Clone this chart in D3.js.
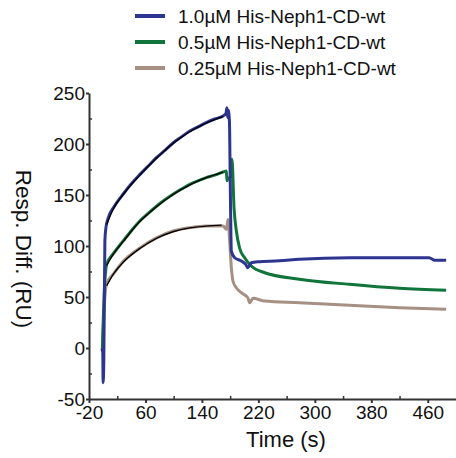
<!DOCTYPE html>
<html>
<head>
<meta charset="utf-8">
<script src="https://cdnjs.cloudflare.com/ajax/libs/d3/7.8.5/d3.min.js"></script>
<style>
body{margin:0;background:#fff;}
#canvas{width:456px;height:458px;}
text{font-family:"Liberation Sans",Arial,sans-serif;fill:#111;}
.axis path,.axis line{stroke:#333;stroke-width:2;}
.minor line{stroke:#333;stroke-width:1.5;}
</style>
</head>
<body>
<div id="canvas" class="canvas"></div>
<script>
//series names + colours
var seriesNames = ['1.0\u00b5M His-Neph1-CD-wt','0.5\u00b5M His-Neph1-CD-wt','0.25\u00b5M His-Neph1-CD-wt'];
var seriesColors = ['#2e3591','#11743a','#a69083'];

//sensorgrams, [time s, RU]
var blue = [[-2,0],[-0.5,-4],[0,-34],[1,-12],[2.5,105],[4,118],[7,127],[15,138],[28.5,151],[40,161],[52,170],[64,178.5],[75.6,186.6],[88,194],[99,201],[111,207],[122.8,212.7],[135,217],[146,221],[158,224.5],[170,227.5],[174,230],[175.5,235.5],[176.5,226],[177.3,233],[179,222],[180,170],[181.7,95],[186.4,88.5],[195.8,85.3],[202,82],[205,78.7],[210,83.6],[219,84.6],[250,85.5],[278,87],[349,88.5],[420,88.5],[462,88.5],[470,86],[486,86]];
var green = [[-1,0],[2,60],[4,78],[5,82],[15,93],[28.5,105],[40,115],[52,124.5],[64,132],[75.6,139],[88,145.5],[99,150.7],[111,155.8],[122.8,160.5],[135,164],[146,167],[158,169.5],[170,172.5],[174.6,173.5],[175.5,164],[177,166],[181.5,168],[182.6,185],[185.5,137.5],[188.8,114.7],[193.4,98],[200.5,88.5],[210,80.4],[229,73.8],[278,67.5],[349,62.4],[420,58.5],[486,56.5]];
var brown = [[-1,0],[2,45],[4,60],[5,63],[15,73],[28.5,85],[52,98],[75.6,108],[99,114.7],[122.8,118],[146,119.6],[170,119.5],[174.6,116.3],[177,126],[179.3,105],[181.7,78.7],[184,65.7],[188.8,59],[195.8,54.2],[205,49.3],[207.6,44.4],[212.3,48.7],[229,46],[278,44.4],[349,41.8],[420,39.5],[486,38]];

//black fitted curves over association phase
var fitBlue = [[5,121],[15,137],[28.5,150.5],[52,169.5],[75.6,186],[99,200.5],[122.8,212],[146,220.5],[170,227]];
var fitGreen = [[5,81],[15,92.5],[28.5,104.5],[52,124],[75.6,138.5],[99,150.5],[122.8,160],[146,167],[170,172.5]];
var fitBrown = [[5,61],[15,73],[28.5,84],[52,97.5],[75.6,107.5],[99,114],[122.8,117.8],[146,119.5],[168,120.5]];

var xTicks = [-20,60,140,220,300,380,460];
var xMinor = [20,100,180,260,340,420];
var yTicks = [-50,0,50,100,150,200,250];
var yMinor = [-25,25,75,125,175,225];

var m = {t:93,r:0,b:59,l:89};
var outerWidth = 456, outerHeight = 458;
var w = outerWidth - m.l - m.r,
    h = outerHeight - m.t - m.b;

var svg = d3.select('.canvas')
    .append('svg')
    .attr('width',outerWidth)
    .attr('height',outerHeight);

var plot = svg.append('g')
    .attr('transform','translate(' + m.l + ',' + m.t + ')');

var scaleX = d3.scaleLinear().domain([-20,500]).range([0,w]);
var scaleY = d3.scaleLinear().domain([-50,250]).range([h,0]);

var fmt = function(d){ return String(d); }; //plain hyphen, not unicode minus

//minor ticks point inward
plot.append('g').attr('class','minor')
    .attr('transform','translate(0,'+h+')')
    .call(d3.axisBottom(scaleX).tickValues(xMinor).tickSize(-3).tickFormat(''))
    .select('.domain').remove();
plot.append('g').attr('class','minor')
    .call(d3.axisLeft(scaleY).tickValues(yMinor).tickSize(-3).tickFormat(''))
    .select('.domain').remove();

var axisX = plot.append('g').attr('class','axis')
    .attr('transform','translate(0,'+h+')')
    .call(d3.axisBottom(scaleX).tickValues(xTicks).tickFormat(fmt).tickSizeInner(4).tickSizeOuter(0).tickPadding(3));
var axisY = plot.append('g').attr('class','axis')
    .call(d3.axisLeft(scaleY).tickValues(yTicks).tickFormat(fmt).tickSizeInner(3).tickSizeOuter(0).tickPadding(1));

plot.selectAll('.axis text').style('font-size','19px').attr('fill','#111');

//lines
var line = d3.line()
    .x(function(d){ return scaleX(d[0]); })
    .y(function(d){ return scaleY(d[1]); })
    .curve(d3.curveMonotoneX);

[brown,green,blue].forEach(function(s,i){
    plot.append('path')
        .datum(s)
        .attr('d',line)
        .attr('fill','none')
        .attr('stroke',seriesColors[2-i])
        .attr('stroke-width',3)
        .attr('stroke-linejoin','round');
});

[fitBrown,fitGreen,fitBlue].forEach(function(s){
    plot.append('path')
        .datum(s)
        .attr('d',line)
        .attr('fill','none')
        .attr('stroke','#000')
        .attr('stroke-width',1.4);
});

//titles
svg.append('text')
    .attr('x',286).attr('y',447)
    .attr('text-anchor','middle')
    .style('font-size','22px')
    .text('Time (s)');

svg.append('text')
    .attr('transform','translate(16,249) rotate(90)')
    .attr('text-anchor','middle')
    .style('font-size','22.5px')
    .text('Resp. Diff. (RU)');

//legend
var legend = svg.append('g');
seriesNames.forEach(function(n,i){
    var y = 16 + i*26;
    legend.append('line')
        .attr('x1',135).attr('x2',165)
        .attr('y1',y).attr('y2',y)
        .attr('stroke',seriesColors[i])
        .attr('stroke-width',4);
    legend.append('text')
        .attr('x',178).attr('y',y+7)
        .style('font-size','19px')
        .text(n);
});
</script>
</body>
</html>
